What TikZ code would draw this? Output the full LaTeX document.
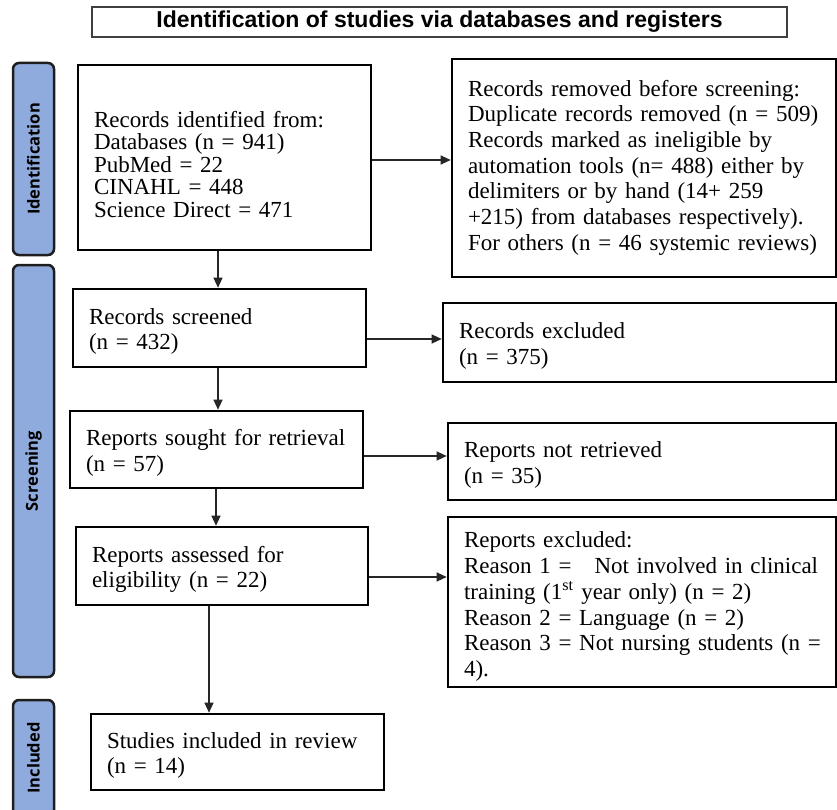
\documentclass[tikz,border=0pt]{standalone}
\usepackage{fontspec}
\setmainfont{Liberation Serif}
\newfontfamily\titlefont{Liberation Sans}
\newfontfamily\barfont{Open Sans}
\usetikzlibrary{arrows.meta}
\definecolor{barblue}{RGB}{143,170,220}
\definecolor{bardark}{RGB}{30,30,30}
\newcommand{\tl}[2][4pt]{\raisebox{-#1}[\height][\depth]{\begin{tabular}{@{}l@{}}#2\end{tabular}}}
\tikzset{
  box/.style={draw=black, line width=2.6pt, fill=white, inner xsep=16pt, inner ysep=0pt,
    align=left, font=\fontsize{23}{25.7}\selectfont},
  bar/.style={draw=bardark, line width=2.5pt, fill=barblue, rounded corners=6pt,
    rotate=90, inner sep=0pt, font=\barfont\bfseries\fontsize{16.5}{18}\selectfont},
  arr/.style={draw=black!85, line width=1.1pt, -{Triangle[length=10pt,width=9pt]}},
  titlebox/.style={draw=black!75, line width=1.2pt, inner sep=0pt,
    font=\titlefont\bfseries\fontsize{23}{26}\selectfont}
}
\begin{document}
\begin{tikzpicture}[x=1pt,y=-1pt]
\useasboundingbox (0,0) rectangle (837,810);
\clip (0,0) rectangle (837,810);

% title
\node[titlebox, minimum width=695pt, minimum height=30pt] (title) at (439.5,22)
  {Identification of studies via databases and registers};

% phase bars
\node[bar, minimum width=192pt, minimum height=41pt] (barid) at (33.5,159) {Identification};
\node[bar, minimum width=412pt, minimum height=41pt] (barsc) at (33.5,471) {Screening};
\node[bar, minimum width=116pt, minimum height=41pt] (barin) at (33.5,758) {Included};

% main column
\node[box, minimum width=293pt, minimum height=185pt, text width=261pt,
  font=\fontsize{23}{22.5}\selectfont] (ident) at (224.5,157.5)
  {\tl[10pt]{Records identified from:\\Databases (n = 941)\\PubMed = 22\\CINAHL = 448\\Science Direct = 471}};
\node[box, minimum width=293pt, minimum height=78pt, text width=261pt] (screened) at (219.5,328)
  {\tl{Records screened\\(n = 432)}};
\node[box, minimum width=293pt, minimum height=77pt, text width=261pt] (sought) at (216.5,449.5)
  {\tl{Reports sought for retrieval\\(n = 57)}};
\node[box, minimum width=292pt, minimum height=78pt, text width=260pt] (assessed) at (222,566)
  {\tl{Reports assessed for\\eligibility (n = 22)}};
\node[box, minimum width=293pt, minimum height=76pt, text width=261pt] (included) at (237.5,752)
  {\tl{Studies included in review\\(n = 14)}};

% right column
\node[box, minimum width=384pt, minimum height=218pt, text width=352pt] (removed) at (644,168)
  {\tl[0pt]{Records removed before screening:\\Duplicate records removed (n = 509)\\Records marked as ineligible by\\automation tools (n= 488) either by\\delimiters or by hand (14+ 259\\+215) from databases respectively).\\For others (n = 46 systemic reviews)}};
\node[box, minimum width=393pt, minimum height=79pt, text width=361pt] (excl1) at (639.5,342.5)
  {\tl{Records excluded\\(n = 375)}};
\node[box, minimum width=388pt, minimum height=77pt, text width=356pt] (notretr) at (642,461.5)
  {\tl{Reports not retrieved\\(n = 35)}};
\node[box, minimum width=388pt, minimum height=170pt, text width=356pt] (excl2) at (642,602)
  {\tl[5pt]{Reports excluded:\\Reason 1 = \ \ Not involved in clinical\\training (1\textsuperscript{st} year only) (n = 2)\\Reason 2 = Language (n = 2)\\Reason 3 = Not nursing students (n =\\4).}};

% vertical arrows
\draw[arr] (ident.south -| 218,0) -- (screened.north -| 218,0);
\draw[arr] (screened.south -| 218,0) -- (sought.north -| 218,0);
\draw[arr] (sought.south -| 216,0) -- (assessed.north -| 216,0);
\draw[arr] (assessed.south -| 209,0) -- (included.north -| 209,0);

% horizontal arrows
\draw[arr] (ident.east |- 0,160) -- (removed.west |- 0,160);
\draw[arr] (screened.east |- 0,339) -- (excl1.west |- 0,339);
\draw[arr] (sought.east |- 0,456) -- (notretr.west |- 0,456);
\draw[arr] (assessed.east |- 0,577) -- (excl2.west |- 0,577);
\end{tikzpicture}
\end{document}
